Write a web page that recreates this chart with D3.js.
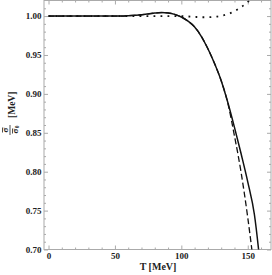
<!DOCTYPE html>
<meta charset="utf-8">
<style>
body { margin:0; background:#fff; }
svg text { font-family: "Liberation Serif", "DejaVu Serif", serif; font-weight: bold; fill:#222; }
</style>
<body>
<div id="mygraph"></div>
<script src="https://d3js.org/d3.v7.min.js"></script>
<script>
// temperature grid [MeV]
var tempT = [0, 20, 40, 55, 60, 65, 70, 75, 80, 85, 90, 95, 100, 105, 110, 115, 120, 125, 130, 135, 140, 145, 150, 155, 160];
// sigma / sigma_0 for each curve
var solidRatio  = [1.0, 1.0, 1.0, 1.0, 1.0004, 1.001, 1.0017, 1.0027, 1.0038, 1.0045, 1.004, 1.0022, 0.9988, 0.9935, 0.986, 0.974, 0.958, 0.939, 0.917, 0.889, 0.857, 0.823, 0.787, 0.745, 0.670];
var dashedRatio = [1.0, 1.0, 1.0, 1.0, 1.0004, 1.001, 1.0017, 1.0027, 1.0038, 1.0045, 1.004, 1.0022, 0.9988, 0.9935, 0.986, 0.974, 0.958, 0.939, 0.917, 0.888, 0.846, 0.799, 0.741, 0.672, 0.590];
var dottedRatio = [1.0, 1.0, 1.0, 1.0, 1.0, 1.0, 1.0, 1.0, 1.0, 1.0, 1.0, 1.0, 1.0, 0.9995, 0.999, 0.9985, 0.9985, 0.999, 1.0003, 1.0025, 1.0062, 1.0115, 1.018, 1.026, 1.035];

var xTicks = [0, 50, 100, 150];
var yTicks = [0.70, 0.75, 0.80, 0.85, 0.90, 0.95, 1.00];

var width = 272, height = 275;
var padL = 44, padR = 271, padT = 0.5, padB = 249.5;

var svg = d3.select("#mygraph").append("svg").attr("width", width).attr("height", height);

var xScale = d3.scaleLinear().domain([-3.4, 167.5]).range([padL, padR]);
var yScale = d3.scaleLinear().domain([0.70, 1.02]).range([padB, padT]);

svg.append("clipPath").attr("id", "clip")
  .append("rect").attr("x", padL).attr("y", padT).attr("width", padR - padL).attr("height", padB - padT);

// frame
svg.append("rect")
  .attr("x", padL).attr("y", padT).attr("width", padR - padL).attr("height", padB - padT)
  .attr("fill", "none").attr("stroke", "#aaa").attr("stroke-width", 1);

var minorX = d3.range(0, 161, 10).filter(function(d) { return xTicks.indexOf(d) < 0; });
var minorY = d3.range(70, 102, 1).map(function(d) { return d / 100; }).filter(function(d) { return Math.round(d * 100) % 5 != 0; });

// axes (ticks point inward, Mathematica style frame)
function frameAxis(axisFn, scale, major, minor, tr, fmt, pad) {
  var g = svg.append("g").attr("transform", tr);
  g.call(axisFn(scale).tickValues(minor).tickSize(-2).tickFormat(""));
  var g2 = svg.append("g").attr("transform", tr);
  g2.call(axisFn(scale).tickValues(major).tickSize(-4).tickPadding(pad || 0).tickFormat(fmt || ""));
  [g, g2].forEach(function(s) {
    s.select(".domain").remove();
    s.selectAll("line").attr("stroke", "#aaa");
    s.selectAll("text").attr("font-size", "9px").attr("fill", "#222");
  });
}
frameAxis(d3.axisBottom, xScale, xTicks, minorX, "translate(0," + padB + ")", d3.format("d"), 3.5);
frameAxis(d3.axisTop, xScale, xTicks, minorX, "translate(0," + padT + ")", null);
frameAxis(d3.axisLeft, yScale, yTicks, minorY, "translate(" + padL + ",0)", d3.format(".2f"), 2.5);
frameAxis(d3.axisRight, yScale, yTicks, minorY, "translate(" + padR + ",0)", null);

// curves
function series(values) {
  return tempT.map(function(t, i) { return [t, values[i]]; });
}
var line = d3.line()
  .x(function(d) { return xScale(d[0]); })
  .y(function(d) { return yScale(d[1]); })
  .curve(d3.curveMonotoneX);

var plot = svg.append("g").attr("clip-path", "url(#clip)");
plot.append("path").attr("d", line(series(dottedRatio)))
  .attr("fill", "none").attr("stroke", "#111").attr("stroke-width", 1.8).attr("stroke-dasharray", "1.8,5.2");
plot.append("path").attr("d", line(series(dashedRatio)))
  .attr("fill", "none").attr("stroke", "#111").attr("stroke-width", 1.3).attr("stroke-dasharray", "6,3");
plot.append("path").attr("d", line(series(solidRatio)))
  .attr("fill", "none").attr("stroke", "#111").attr("stroke-width", 1.5);

// x title
svg.append("text").attr("x", 158).attr("y", 270).attr("text-anchor", "middle")
  .attr("font-size", "10px").text("T [MeV]");

// y title: fraction sigma-bar / sigma-bar_0 [MeV]
var yl = svg.append("g").attr("transform", "translate(15,120) rotate(-90)");
yl.append("text").attr("x", 2).attr("y", 0).attr("font-size", "9.5px").text("[MeV]");
yl.append("line").attr("x1", -15).attr("x2", -5).attr("y1", -5).attr("y2", -5).attr("stroke", "#222").attr("stroke-width", 0.8);
yl.append("text").attr("x", -10).attr("y", -7.5).attr("text-anchor", "middle").attr("font-size", "9px").text("σ");
yl.append("line").attr("x1", -12.5).attr("x2", -7.5).attr("y1", -12.5).attr("y2", -12.5).attr("stroke", "#222").attr("stroke-width", 0.8);
yl.append("text").attr("x", -11).attr("y", 2.5).attr("text-anchor", "middle").attr("font-size", "9px").text("σ");
yl.append("text").attr("x", -8.3).attr("y", 4).attr("font-size", "5.5px").text("0");
yl.append("line").attr("x1", -13.5).attr("x2", -8.5).attr("y1", -2.5).attr("y2", -2.5).attr("stroke", "#222").attr("stroke-width", 0.8);
</script>
</body>
